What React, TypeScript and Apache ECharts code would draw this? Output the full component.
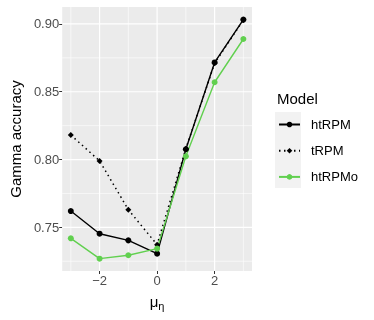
import React, { useEffect, useRef } from "react";
import * as echarts from "echarts";

const xValues = [-3, -2, -1, 0, 1, 2, 3];
const htRPM = [0.762, 0.7453, 0.7404, 0.7306, 0.8076, 0.8716, 0.9032];
const tRPM = [0.8181, 0.799, 0.763, 0.7372, 0.808, 0.871, 0.903];
const htRPMo = [0.7419, 0.7269, 0.7294, 0.7343, 0.8024, 0.857, 0.8889];
const seriesNames = ["htRPM", "tRPM", "htRPMo"];
const yTicks = [0.75, 0.8, 0.85, 0.9];
const yMinorGrid = [0.725, 0.775, 0.825, 0.875];
const xTicks = [-2, 0, 2];
const xMinorGrid = [-3, -1, 1, 3];

const FONT = "'Liberation Sans', Arial, Helvetica, sans-serif";

function gridSeries(values: number[], vertical: boolean, width: number) {
  return {
    type: "custom",
    silent: true,
    z: 1,
    clip: false,
    data: values.map((v) => (vertical ? [v, yTicks[0]] : [xTicks[0], v])),
    encode: { x: 0, y: 1 },
    renderItem: (params: any, api: any) => {
      const cs = params.coordSys;
      const p = api.coord([api.value(0), api.value(1)]);
      const shape = vertical
        ? { x1: p[0], y1: cs.y, x2: p[0], y2: cs.y + cs.height }
        : { x1: cs.x, y1: p[1], x2: cs.x + cs.width, y2: p[1] };
      return {
        type: "line",
        shape,
        style: { stroke: "#FFFFFF", lineWidth: width },
      };
    },
  };
}

export default function App() {
  const ref = useRef<HTMLDivElement>(null);
  useEffect(() => {
    if (!ref.current) return;
    const chart = echarts.init(ref.current, undefined, { renderer: "svg" });
    const pair = (ys: number[]) => xValues.map((x, i) => [x, ys[i]]);
    chart.setOption({
      animation: false,
      textStyle: { fontFamily: FONT },
      grid: {
        left: 60,
        right: 122,
        top: 7,
        bottom: 49,
        show: true,
        backgroundColor: "#EBEBEB",
        borderWidth: 0,
      },
      xAxis: {
        type: "value",
        min: -3.3,
        max: 3.3,
        name: "{a|μ}{b|η}",
        nameLocation: "middle",
        nameGap: 21,
        nameTextStyle: {
          rich: {
            a: { fontSize: 15, color: "#000", fontFamily: FONT },
            b: { fontSize: 11, color: "#000", fontFamily: FONT, padding: [8, 0, 0, 0] },
          },
        },
        axisLine: { show: false, onZero: false },
        axisTick: { show: true, length: 3, lineStyle: { color: "#333", width: 1 }, customValues: xTicks },
        axisLabel: {
          customValues: xTicks,
          color: "#4D4D4D",
          fontSize: 13,
          margin: 3,
          fontFamily: FONT,
          formatter: (v: number) => String(v).replace("-", "\u2212"),
        },
        splitLine: { show: false },
        minorSplitLine: { show: false },
      },
      yAxis: {
        type: "value",
        min: 0.7178,
        max: 0.9125,
        name: "Gamma accuracy",
        nameLocation: "middle",
        nameRotate: 90,
        nameGap: 34,
        nameTextStyle: { fontSize: 15, color: "#000", fontFamily: FONT },
        axisLine: { show: false, onZero: false },
        axisTick: { show: true, length: 3, lineStyle: { color: "#333", width: 1 }, customValues: yTicks },
        axisLabel: {
          customValues: yTicks,
          color: "#4D4D4D",
          fontSize: 13,
          margin: 3,
          fontFamily: FONT,
          formatter: (v: number) => v.toFixed(2),
        },
        splitLine: { show: false },
        minorSplitLine: { show: false },
      },
      legend: {
        orient: "vertical",
        left: 278,
        top: 118,
        padding: 0,
        itemWidth: 21,
        itemHeight: 7,
        itemGap: 13.2,
        data: seriesNames,
        textStyle: { fontSize: 13, color: "#000", fontFamily: FONT, padding: [0, 0, 0, 6] },
      },
      graphic: [
        {
          type: "rect",
          left: 275,
          top: 112,
          shape: { width: 26, height: 76 },
          style: { fill: "#F2F2F2" },
          z: 0,
          silent: true,
        },
        {
          type: "text",
          left: 277,
          top: 91,
          style: { text: "Model", fontSize: 15, fill: "#000", fontFamily: FONT },
        },
      ],
      series: [
        gridSeries(xMinorGrid, true, 0.6),
        gridSeries(yMinorGrid, false, 0.6),
        gridSeries(xTicks, true, 1.2),
        gridSeries(yTicks, false, 1.2),
        {
          name: "htRPM",
          type: "line",
          data: pair(htRPM),
          symbol: "circle",
          symbolSize: 6,
          color: "#000",
          z: 3,
          lineStyle: { color: "#000", width: 1.4 },
          itemStyle: { color: "#000" },
        },
        {
          name: "tRPM",
          type: "line",
          data: pair(tRPM),
          symbol: "diamond",
          symbolSize: 6,
          color: "#000",
          z: 3,
          lineStyle: { color: "#000", width: 1.5, type: [1.5, 3.5] },
          itemStyle: { color: "#000" },
        },
        {
          name: "htRPMo",
          type: "line",
          data: pair(htRPMo),
          symbol: "circle",
          symbolSize: 6,
          color: "#61D04F",
          z: 3,
          lineStyle: { color: "#61D04F", width: 1.4 },
          itemStyle: { color: "#61D04F" },
        },
      ],
    });
    return () => chart.dispose();
  }, []);
  return (
    <div
      ref={ref}
      style={{ position: "fixed", left: 0, top: 0, width: 374, height: 320 }}
    />
  );
}
